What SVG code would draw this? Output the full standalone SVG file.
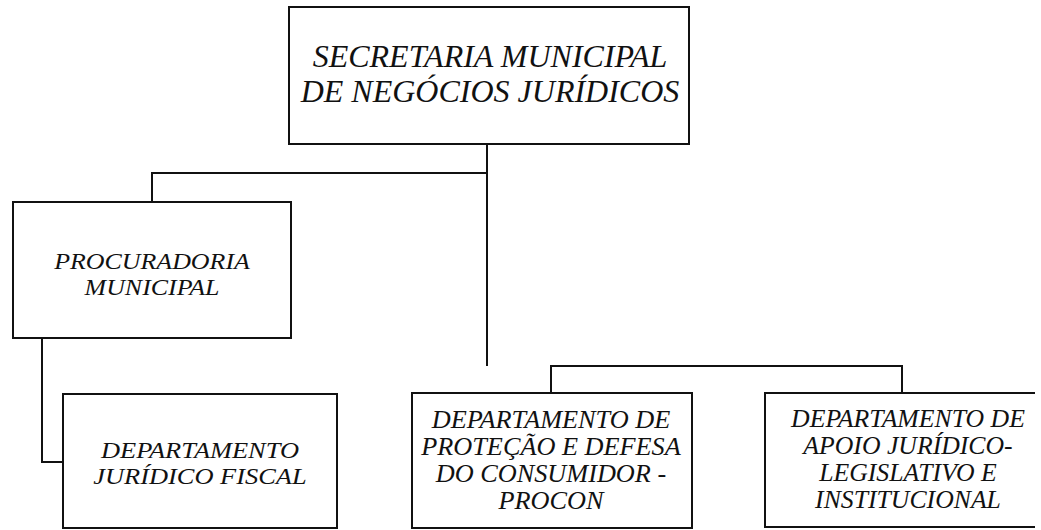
<svg xmlns="http://www.w3.org/2000/svg" width="1041" height="530" viewBox="0 0 1041 530">
<style>
.box{fill:#fff;stroke:#111;stroke-width:2}
.con{fill:none;stroke:#111;stroke-width:2}
.t{font-family:"Liberation Serif","Times New Roman",serif;font-style:italic;fill:#111;text-anchor:middle}
</style>
<rect width="1041" height="530" fill="#fff"/>
<g id="connectors">
<polyline class="con" points="487,144 487,366"/>
<polyline class="con" points="487,173 152,173 152,202"/>
<polyline class="con" points="42,338 42,462 63,462"/>
<polyline class="con" points="551,393 551,366 902,366 902,393"/>
</g>
<g id="secretaria">
<rect class="box" x="289" y="7" width="400" height="137"/>
<text class="t" font-size="32" x="490" y="67">SECRETARIA MUNICIPAL<tspan x="490" dy="35">DE NEGÓCIOS JURÍDICOS</tspan></text>
</g>
<g id="procuradoria">
<rect class="box" x="13" y="202" width="278" height="136"/>
<text class="t" font-size="24" x="152" y="269" transform="matrix(1.08,0,0,1,-12.16,0)">PROCURADORIA<tspan x="152" dy="26">MUNICIPAL</tspan></text>
</g>
<g id="juridico-fiscal">
<rect class="box" x="63" y="394" width="274" height="134"/>
<text class="t" font-size="24" x="200" y="458" transform="matrix(1.1,0,0,1,-20,0)">DEPARTAMENTO<tspan x="200" dy="26">JURÍDICO FISCAL</tspan></text>
</g>
<g id="procon">
<rect class="box" x="412" y="393" width="280" height="135"/>
<text class="t" font-size="25" x="551" y="428" transform="matrix(1.05,0,0,1,-27.55,0)">DEPARTAMENTO DE<tspan x="551" dy="27">PROTEÇÃO E DEFESA</tspan><tspan x="551" dy="27">DO CONSUMIDOR -</tspan><tspan x="551" dy="27">PROCON</tspan></text>
</g>
<g id="apoio-juridico">
<polyline class="con" points="1035,393 765,393 765,527 1035,527"/>
<text class="t" font-size="25" x="908" y="427" transform="matrix(1.03,0,0,1,-27.24,0)">DEPARTAMENTO DE<tspan x="908" dy="27">APOIO JURÍDICO-</tspan><tspan x="908" dy="27">LEGISLATIVO E</tspan><tspan x="908" dy="27">INSTITUCIONAL</tspan></text>
</g>
</svg>
